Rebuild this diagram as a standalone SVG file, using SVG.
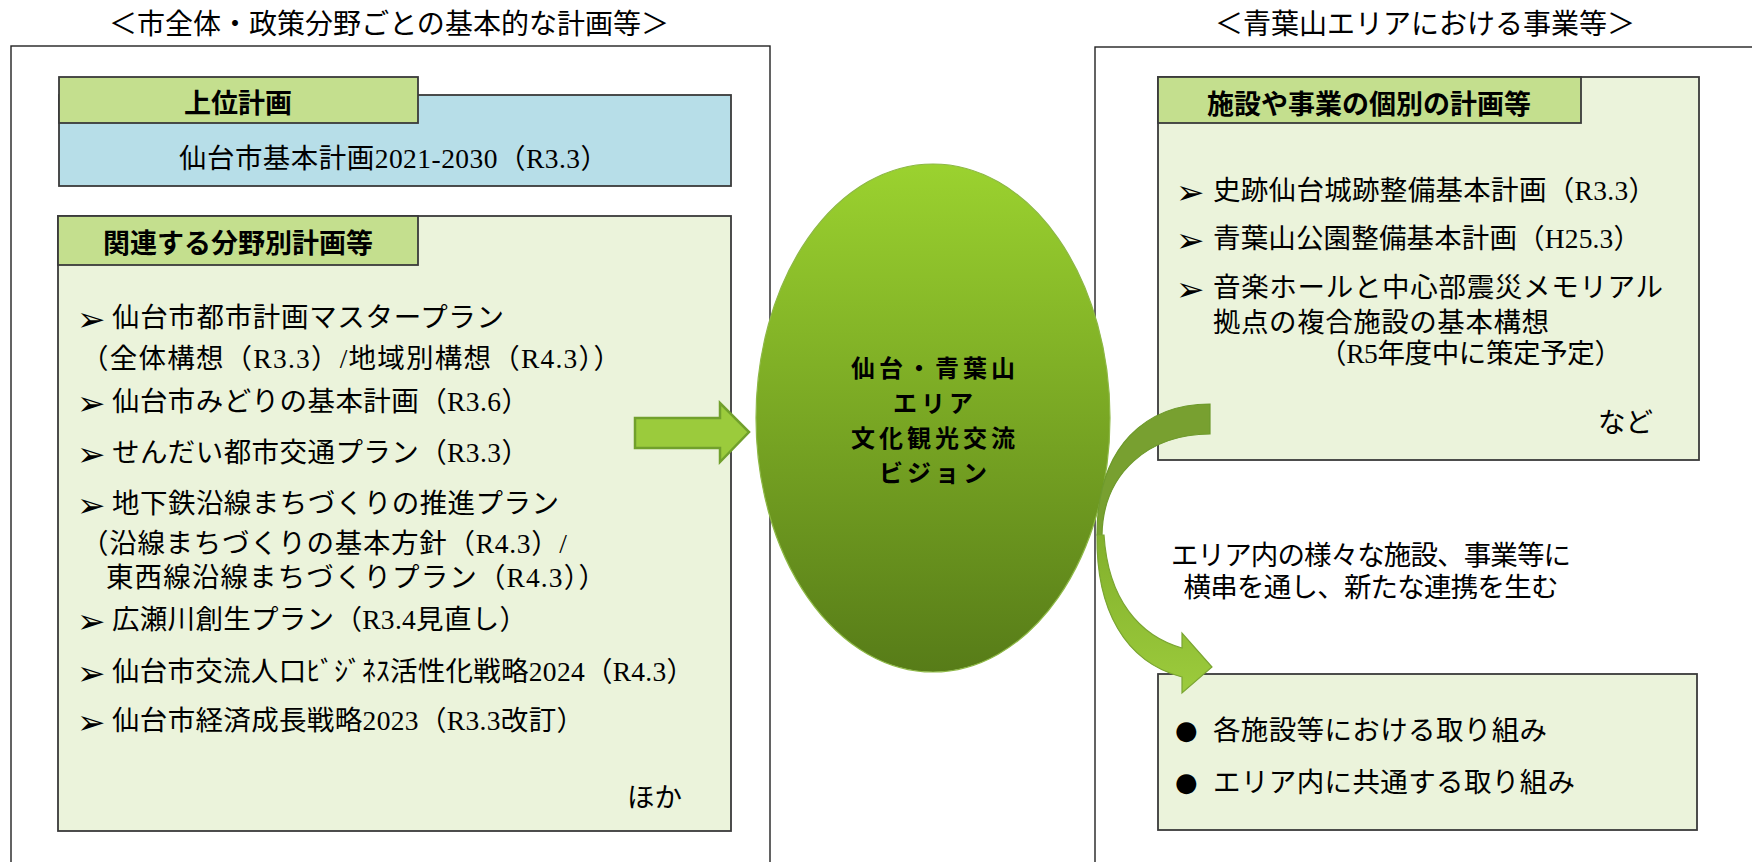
<svg xmlns="http://www.w3.org/2000/svg" width="1752" height="862" viewBox="0 0 1752 862">
<style>
.title{font-family:"Noto Sans CJK JP","Noto Sans",sans-serif;font-size:28px;fill:#000}
.hdr{font-family:"Noto Sans CJK JP","Noto Sans",sans-serif;font-size:27px;font-weight:bold;fill:#000}
.body{font-family:"Liberation Serif","Noto Sans CJK JP",serif;font-size:27.5px;fill:#000}
.bul{font-family:"DejaVu Sans",sans-serif;font-size:34px;fill:#000}
.dot{font-family:"DejaVu Sans",sans-serif;font-size:26px;fill:#000}
.vis{font-family:"Noto Sans CJK JP","Noto Sans",sans-serif;font-size:24px;font-weight:bold;letter-spacing:4px;fill:#000}
.outer{fill:#fff;stroke:#222;stroke-width:1.4}
.panel{fill:#EBF3DB;stroke:#3a3a3a;stroke-width:1.8}
.tab{fill:#C4DF8E;stroke:#3a3a3a;stroke-width:1.8}
.blue{fill:#B7DEE8;stroke:#3a3a3a;stroke-width:1.8}
</style>
<defs>
<linearGradient id="ellG" x1="0" y1="0" x2="0" y2="1">
<stop offset="0" stop-color="#9BD22F"/>
<stop offset="1" stop-color="#577C18"/>
</linearGradient>
<linearGradient id="bandG" x1="0" y1="0" x2="0" y2="1">
<stop offset="0" stop-color="#82B02C"/>
<stop offset="1" stop-color="#9CCB3C"/>
</linearGradient>
</defs>

<g id="title-left"><text class="title" x="389" y="34" text-anchor="middle" textLength="560" lengthAdjust="spacing">＜市全体・政策分野ごとの基本的な計画等＞</text></g>
<g id="title-right"><text class="title" x="1425" y="34" text-anchor="middle" textLength="420" lengthAdjust="spacing">＜青葉山エリアにおける事業等＞</text></g>

<g id="frame-left"><rect class="outer" x="11" y="46" width="759" height="900"/></g>
<g id="frame-right"><rect class="outer" x="1095" y="47" width="720" height="900"/></g>

<g id="upper-plan">
<rect class="blue" x="59" y="95" width="672" height="91"/>
<rect class="tab" x="59" y="77" width="359" height="46"/>
<text class="hdr" x="238" y="113" text-anchor="middle">上位計画</text>
<text class="body" x="179" y="168" textLength="429" lengthAdjust="spacing">仙台市基本計画2021-2030（R3.3）</text>
</g>

<g id="sector-plans">
<rect class="panel" x="58" y="216" width="673" height="615"/>
<rect class="tab" x="58" y="216" width="360" height="49"/>
<text class="hdr" x="238" y="253" text-anchor="middle">関連する分野別計画等</text>
<text class="bul" x="77" y="331">➢</text>
<text class="body" x="112" y="327" textLength="392" lengthAdjust="spacing">仙台市都市計画マスタープラン</text>
<text class="body" x="81" y="368" textLength="540" lengthAdjust="spacing">（全体構想（R3.3）/地域別構想（R4.3））</text>
<text class="bul" x="77" y="415">➢</text>
<text class="body" x="112" y="411" textLength="417" lengthAdjust="spacing">仙台市みどりの基本計画（R3.6）</text>
<text class="bul" x="77" y="466">➢</text>
<text class="body" x="112" y="462" textLength="417" lengthAdjust="spacing">せんだい都市交通プラン（R3.3）</text>
<text class="bul" x="77" y="517">➢</text>
<text class="body" x="112" y="513" textLength="447" lengthAdjust="spacing">地下鉄沿線まちづくりの推進プラン</text>
<text class="body" x="81" y="553" textLength="486" lengthAdjust="spacing">（沿線まちづくりの基本方針（R4.3）/</text>
<text class="body" x="106" y="587" textLength="500" lengthAdjust="spacing">東西線沿線まちづくりプラン（R4.3））</text>
<text class="bul" x="77" y="633">➢</text>
<text class="body" x="112" y="629" textLength="415" lengthAdjust="spacing">広瀬川創生プラン（R3.4見直し）</text>
<text class="bul" x="77" y="685">➢</text>
<text class="body" x="112" y="681" textLength="582" lengthAdjust="spacing">仙台市交流人口ﾋﾞｼﾞﾈｽ活性化戦略2024（R4.3）</text>
<text class="bul" x="77" y="734">➢</text>
<text class="body" x="112" y="730" textLength="472" lengthAdjust="spacing">仙台市経済成長戦略2023（R3.3改訂）</text>
<text class="body" x="627" y="807">ほか</text>
</g>

<g id="facility-plans">
<rect class="panel" x="1158" y="77" width="541" height="383"/>
<rect class="tab" x="1158" y="77" width="423" height="46"/>
<text class="hdr" x="1369" y="114" text-anchor="middle">施設や事業の個別の計画等</text>
<text class="bul" x="1176" y="204">➢</text>
<text class="body" x="1213" y="200" textLength="443" lengthAdjust="spacing">史跡仙台城跡整備基本計画（R3.3）</text>
<text class="bul" x="1176" y="252">➢</text>
<text class="body" x="1213" y="248" textLength="428" lengthAdjust="spacing">青葉山公園整備基本計画（H25.3）</text>
<text class="bul" x="1176" y="301">➢</text>
<text class="body" x="1213" y="297" textLength="450" lengthAdjust="spacing">音楽ホールと中心部震災メモリアル</text>
<text class="body" x="1213" y="332" textLength="336" lengthAdjust="spacing">拠点の複合施設の基本構想</text>
<text class="body" x="1319" y="363" textLength="303" lengthAdjust="spacing">（R5年度中に策定予定）</text>
<text class="body" x="1598" y="432">など</text>
</g>

<g id="vision">
<ellipse cx="933" cy="418" rx="177" ry="254" fill="url(#ellG)" stroke="#8DB845" stroke-width="1.2"/>
<text class="vis" x="935" y="377" text-anchor="middle">仙台・青葉山</text>
<text class="vis" x="935" y="412" text-anchor="middle">エリア</text>
<text class="vis" x="935" y="447" text-anchor="middle">文化観光交流</text>
<text class="vis" x="935" y="482" text-anchor="middle">ビジョン</text>
</g>

<g id="note">
<text class="body" x="1371" y="565" text-anchor="middle" textLength="400" lengthAdjust="spacing">エリア内の様々な施設、事業等に</text>
<text class="body" x="1371" y="597" text-anchor="middle" textLength="375" lengthAdjust="spacing">横串を通し、新たな連携を生む</text>
</g>

<g id="actions">
<rect class="panel" x="1158" y="674" width="539" height="156"/>
<text class="dot" x="1175" y="739">●</text>
<text class="body" x="1213" y="740" textLength="334" lengthAdjust="spacing">各施設等における取り組み</text>
<text class="dot" x="1175" y="791">●</text>
<text class="body" x="1213" y="792" textLength="362" lengthAdjust="spacing">エリア内に共通する取り組み</text>
</g>

<g id="connectors">
<path d="M635,418 L720,418 L720,403 L749,432 L720,462 L720,448 L635,448 Z" fill="#9BCB3C" stroke="#71A02C" stroke-width="2.5" stroke-linejoin="miter"/>
<path d="M1210,404 C1147,404 1097,445 1097,535 L1102,535 C1103,472 1150,434 1210,434 Z" fill="#78A030" stroke="#6E9A2C" stroke-width="1.2"/>
<path d="M1097,535 C1096,610 1125,662 1182,677 L1182,693 L1212,667 L1182,633 L1182,648 C1140,636 1108,600 1104,535 Z" fill="url(#bandG)" stroke="#7AA532" stroke-width="1.2"/>
</g>
</svg>
